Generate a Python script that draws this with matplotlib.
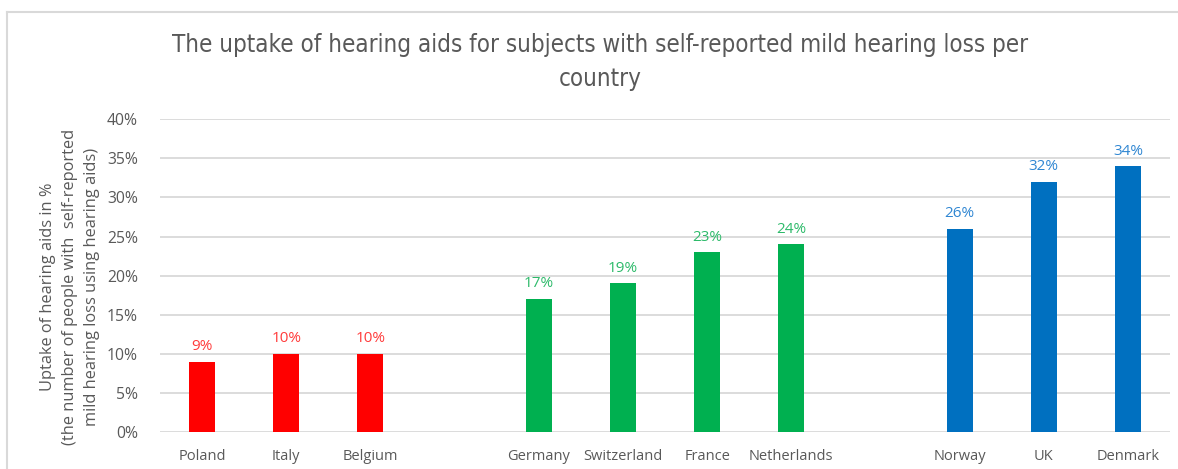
import matplotlib
matplotlib.use("Agg")
import matplotlib.pyplot as plt
from matplotlib.lines import Line2D
from matplotlib.ticker import PercentFormatter

# ---- data ----
group_low = ["Poland", "Italy", "Belgium"]
group_mid = ["Germany", "Switzerland", "France", "Netherlands"]
group_high = ["Norway", "UK", "Denmark"]
values_low = [9, 10, 10]
values_mid = [17, 19, 23, 24]
values_high = [26, 32, 34]
y_ticks = [0, 5, 10, 15, 20, 25, 30, 35, 40]

title = "The uptake of hearing aids for subjects with self-reported mild hearing loss per\ncountry"
ylabel = ("Uptake of hearing aids in %\n(the number of people with  self-reported\n"
          "mild hearing loss using hearing aids)")

bar_colors = ["#FF0000", "#00B050", "#0070C0"]
label_colors = ["#FF3B3B", "#2DBA6A", "#2F86D2"]

groups = [(group_low, values_low), (group_mid, values_mid), (group_high, values_high)]

W, H = 1178, 469
fig = plt.figure(figsize=(W / 100, H / 100), dpi=100)
ax = fig.add_axes([160 / W, 1 - 432 / H, (1170 - 160) / W, (432 - 119.3) / H])

font = ["Open Sans", "DejaVu Sans"]
grey = "#595959"

pos = 0
all_pos, all_names = [], []
for gi, (names, vals) in enumerate(groups):
    xs = list(range(pos, pos + len(names)))
    bars = ax.bar(xs, vals, width=0.31, color=bar_colors[gi], zorder=3)
    for b, v in zip(bars, vals):
        ax.annotate(f"{v}%", (b.get_x() + b.get_width() / 2, v), xytext=(0, 5.5),
                    textcoords="offset points", ha="center", va="bottom",
                    color=label_colors[gi], fontsize=11, family=font)
    all_pos += xs
    all_names += names
    pos += len(names) + 1

ax.set_xlim(-0.5, pos - 1.5)
ax.set_ylim(0, 40)
ax.set_yticks(y_ticks)
ax.yaxis.set_major_formatter(PercentFormatter(decimals=0))
ax.set_xticks(all_pos)
ax.set_xticklabels(all_names, family=font, fontsize=10.5, color=grey)
for lab in ax.get_yticklabels():
    lab.set_family(font)
    lab.set_fontsize(11.3)
    lab.set_color(grey)
ax.tick_params(axis="both", length=0)
ax.tick_params(axis="x", pad=12)
ax.tick_params(axis="y", pad=16)
ax.grid(axis="y", color="#D9D9D9", linewidth=1.3, zorder=0)
for s in ax.spines.values():
    s.set_visible(False)

ax.set_ylabel(ylabel, family=font, fontsize=11.8, color=grey, linespacing=1.5)
ax.yaxis.label.set_va("center")
ax.yaxis.set_label_coords(-0.0891, 0.4637)

fig.text(600 / W, 1 - 62 / H, title, ha="center", va="center",
         family=["DejaVu Sans"], fontstretch="condensed", fontsize=17.3,
         color=grey, linespacing=1.5)

# chart frame (partially cropped)
fig.add_artist(Line2D([7 / W, 1], [1 - 12 / H, 1 - 12 / H], color="#D9D9D9", linewidth=1.5))
fig.add_artist(Line2D([7 / W, 7 / W], [0, 1 - 12 / H], color="#D9D9D9", linewidth=1.5))

fig.savefig("out.png", dpi=100)
